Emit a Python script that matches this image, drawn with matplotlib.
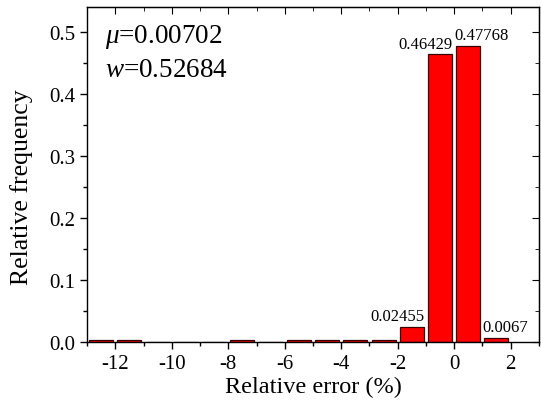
import numpy as np
import matplotlib
matplotlib.use("Agg")
import matplotlib.pyplot as plt
from matplotlib.ticker import MultipleLocator

plt.rcParams["font.family"] = ["Liberation Serif", "DejaVu Serif"]
plt.rcParams["mathtext.fontset"] = "custom"
plt.rcParams["mathtext.it"] = "Liberation Serif:italic"
plt.rcParams["mathtext.rm"] = "Liberation Serif"

# bin centres (%) and relative frequency
centers = [-12.5, -11.5, -10.5, -9.5, -8.5, -7.5, -6.5, -5.5, -4.5, -3.5, -2.5, -1.5, -0.5, 0.5, 1.5]
freq = [0.0040, 0.0040, 0.0, 0.0, 0.0, 0.0040, 0.0, 0.0037, 0.0037, 0.0037, 0.0037, 0.02455, 0.46429, 0.47768, 0.0067]
lab_idx = [11, 12, 13, 14]
lab_txt = ["0.02455", "0.46429", "0.47768", "0.0067"]
lab_dx = [-0.5, -0.5, 0.47, 0.3]

fig = plt.figure(figsize=(5.41, 4.06), dpi=100)
ax = fig.add_axes([0.161, 0.155, 0.835, 0.825])

ax.bar(centers, freq, width=0.85, color="#ff0000", edgecolor="#3a0000", linewidth=0.9)

for i, t, dx in zip(lab_idx, lab_txt, lab_dx):
    ax.text(centers[i] + dx, freq[i] + 0.004, t, ha="center", va="bottom", fontsize=12)

ax.text(0.04, 0.915, r"$\mu$=0.00702", transform=ax.transAxes, fontsize=19.5, va="center")
ax.text(0.04, 0.815, r"$w$=0.52684", transform=ax.transAxes, fontsize=19.5, va="center")

ax.set_xlim(-13, 3)
ax.set_ylim(0, 0.54)
ax.xaxis.set_major_locator(MultipleLocator(2))
ax.xaxis.set_minor_locator(MultipleLocator(1))
ax.yaxis.set_major_locator(MultipleLocator(0.1))
ax.yaxis.set_minor_locator(MultipleLocator(0.05))
ax.set_xticks([-12, -10, -8, -6, -4, -2, 0, 2])
ax.set_xticklabels(["-12", "-10", "-8", "-6", "-4", "-2", "0", "2"])
ax.set_yticks([0.0, 0.1, 0.2, 0.3, 0.4, 0.5])
ax.set_yticklabels(["0.0", "0.1", "0.2", "0.3", "0.4", "0.5"])
ax.tick_params(which="major", direction="out", length=5, width=1, labelsize=15)
ax.tick_params(which="minor", direction="out", length=3, width=1)

top = ax.secondary_xaxis("top")
top.xaxis.set_major_locator(MultipleLocator(2))
top.xaxis.set_minor_locator(MultipleLocator(1))
top.tick_params(which="both", direction="in", labeltop=False)
top.tick_params(which="major", length=5)
top.tick_params(which="minor", length=3)
right = ax.secondary_yaxis("right")
right.yaxis.set_major_locator(MultipleLocator(0.1))
right.yaxis.set_minor_locator(MultipleLocator(0.05))
right.tick_params(which="both", direction="in", labelright=False)
right.tick_params(which="major", length=5)
right.tick_params(which="minor", length=3)

for s in ax.spines.values():
    s.set_linewidth(1)

ax.set_xlabel("Relative error (%)", fontsize=17.5, labelpad=2)
ax.set_ylabel("Relative frequency", fontsize=18.5)
ax.yaxis.set_label_coords(-0.119, 0.466)

fig.savefig("out.png", dpi=100)
